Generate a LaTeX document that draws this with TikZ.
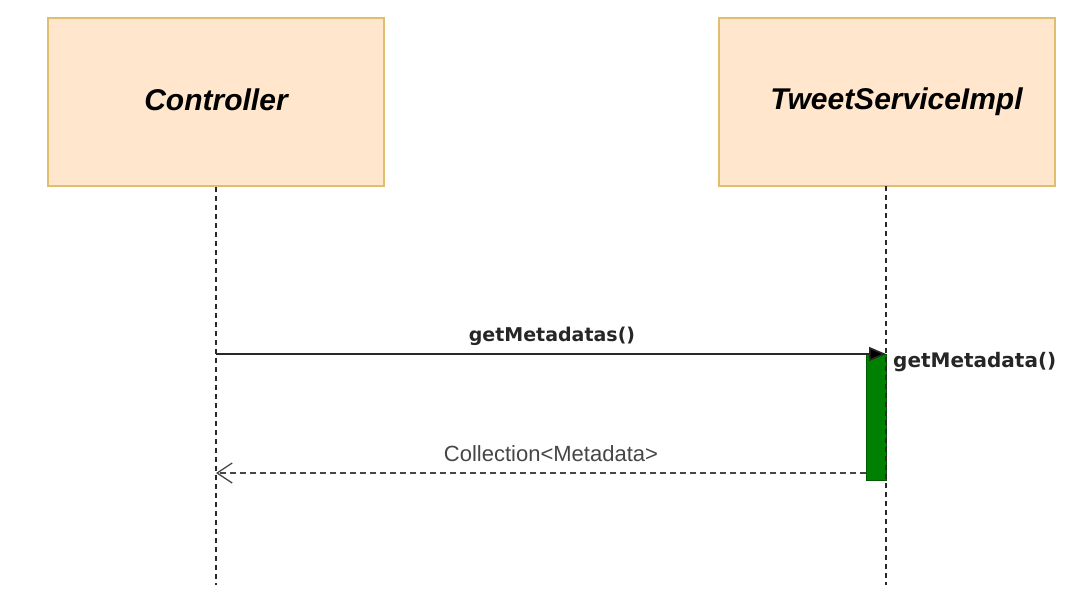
\documentclass[tikz,border=0pt]{standalone}
\usepackage{fontspec}
\setmainfont{Liberation Sans}
\newfontfamily\djv{DejaVu Sans}
\usetikzlibrary{arrows.meta}
\definecolor{boxfill}{RGB}{255,230,204}
\definecolor{boxline}{RGB}{224,190,110}
\definecolor{barfill}{RGB}{0,128,0}
\definecolor{linegray}{RGB}{40,40,40}
\definecolor{retgray}{RGB}{70,70,70}
\tikzset{
  participant/.style={draw=boxline, fill=boxfill, line width=2pt, minimum width=336pt, minimum height=168pt, inner sep=0pt,
    font=\fontsize{30}{36}\selectfont\bfseries\itshape},
  lifeline/.style={draw=linegray, line width=1.3pt, dash pattern=on 5pt off 4pt},
  activation/.style={draw=barfill!70!black, fill=barfill, line width=0.8pt, minimum width=20pt, minimum height=126pt, inner sep=0pt},
  callmsg/.style={draw=linegray, line width=1.6pt, -{Triangle[length=17pt,width=14pt,fill=black]}},
  retmsg/.style={draw=retgray, line width=1.3pt, dash pattern=on 6pt off 4pt, -{Straight Barb[length=15pt,width=20pt,line width=1.3pt]}},
  msglabel/.style={font=\djv\bfseries\fontsize{19}{22}\selectfont, text=black!85, inner sep=0pt},
  retlabel/.style={font=\fontsize{22}{26}\selectfont, text=retgray, inner sep=0pt}
}
\begin{document}
\begin{tikzpicture}[x=1pt,y=-1pt]
\useasboundingbox (0,0) rectangle (1080,589);
\node[participant] (ctrl) at (216,102) {\raisebox{4pt}{Controller}};
\node[participant] (tws) at (886.5,102) {\raisebox{6pt}{\hspace*{20pt}TweetServiceImpl}};
\node[activation] (bar) at (876,417) {};
\coordinate (ctrlEnd) at (216,585);
\coordinate (twsEnd) at (886,585);
\coordinate (twsTop) at (886,186);
\draw[lifeline] (ctrl.south) -- (ctrlEnd);
\draw[lifeline] (twsTop) -- (twsEnd);
\coordinate (callStart) at (216,354);
\coordinate (callEnd) at (886,354);
\coordinate (retStart) at (866,473);
\coordinate (retEnd) at (216,473);
\draw[callmsg] (callStart) -- (callEnd);
\draw[retmsg] (retStart) -- (retEnd);
\node[msglabel] (callLbl) at (552,336) {getMetadatas()};
\node[msglabel, anchor=west, font=\djv\bfseries\fontsize{20}{24}\selectfont] (selfLbl) at (893,362) {getMetadata()};
\node[retlabel] (retLbl) at (551,454) {Collection<Metadata>};
\end{tikzpicture}
\end{document}
